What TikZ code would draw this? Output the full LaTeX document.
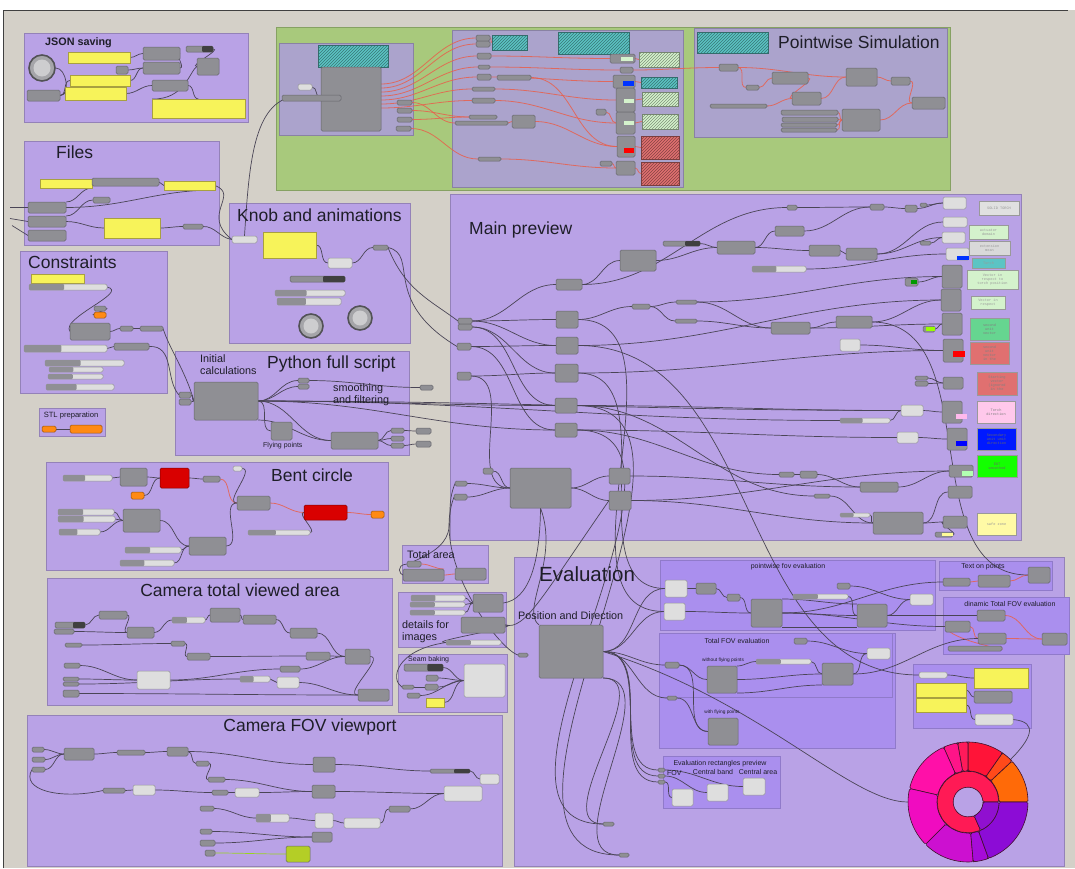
\documentclass[tikz,border=0pt]{standalone}
\usepackage{fontspec}
\setmainfont{Liberation Sans}
\setmonofont{Liberation Mono}
\usetikzlibrary{patterns}
\definecolor{canvas}{HTML}{D4D0C8}
\definecolor{cgrp}{HTML}{B9A2E6}
\definecolor{csub}{HTML}{AA8FEE}
\definecolor{cgreen}{HTML}{A8C97C}
\definecolor{cpg}{HTML}{ABA3CC}
\definecolor{cgrey}{HTML}{8F8F94}
\definecolor{cbord}{HTML}{66666C}
\definecolor{clight}{HTML}{DEDEDE}
\definecolor{cyel}{HTML}{F7F35A}
\definecolor{ybord}{HTML}{A8A040}
\definecolor{cwire}{HTML}{4A4556}
\definecolor{cred}{HTML}{E8604C}
\definecolor{corange}{HTML}{FF8A14}
\definecolor{ctitle}{HTML}{1E1E28}
\definecolor{ccyan}{HTML}{5CC4C4}
\definecolor{clgreen}{HTML}{D4F2CC}
\definecolor{chred}{HTML}{E07070}
\definecolor{dkr}{HTML}{40102A}
\definecolor{d1}{HTML}{FF6A08}
\definecolor{d2}{HTML}{FF4A1A}
\definecolor{d3}{HTML}{FF1438}
\definecolor{d4}{HTML}{FF1A5A}
\definecolor{d5}{HTML}{FF1488}
\definecolor{d6}{HTML}{FF10A8}
\definecolor{d7}{HTML}{F00CC0}
\definecolor{d8}{HTML}{CC10D0}
\definecolor{d9}{HTML}{A60CD8}
\definecolor{d10}{HTML}{8C0CD6}
\definecolor{d11}{HTML}{FF1A55}
\definecolor{d12}{HTML}{9010D0}
\pgfdeclarelayer{bg}
\pgfdeclarelayer{wires}
\pgfsetlayers{bg,wires,main}
\tikzset{
 grp/.style={fill=cgrp,draw=cgrp!80!black,line width=0.4pt,inner sep=0,outer sep=0},
 sgrp/.style={fill=csub,draw=csub!85!black,line width=0.4pt,inner sep=0,outer sep=0},
 ggrn/.style={fill=cgreen,draw=cgreen!80!black,line width=0.4pt,inner sep=0,outer sep=0},
 gpg/.style={fill=cpg,draw=cpg!80!black,line width=0.4pt,inner sep=0,outer sep=0},
 comp/.style={draw=cbord,fill=cgrey,rounded corners=1.5pt,inner sep=0,outer sep=0,line width=0.5pt},
 lcomp/.style={comp,fill=clight,draw=cbord!70},
 ypan/.style={draw=ybord,fill=cyel,inner sep=0,outer sep=0,line width=0.5pt},
 orng/.style={comp,fill=corange,draw=corange!60!black},
 redbox/.style={comp,fill=red!85!black,draw=red!50!black},
 hat/.style={draw=#1!55!black,line width=0.6pt,preaction={fill=#1},pattern=north east lines,pattern color=#1!60!black,inner sep=0,outer sep=0},
 pan/.style={draw=black!40,fill=#1,line width=0.6pt,inner sep=0,outer sep=0},
 wire/.style={draw=cwire,line width=0.7pt},
 rwire/.style={draw=cred,line width=0.8pt,opacity=0.85},
 ttl/.style={font=\fontsize{17.5}{18}\selectfont,text=ctitle,inner sep=0,anchor=west},
 lbl/.style={font=\fontsize{10.8}{12}\selectfont,text=ctitle,inner sep=0,anchor=west},
 sml/.style={font=\fontsize{7}{8}\selectfont,text=ctitle,inner sep=0},
 ptx/.style={font=\ttfamily\fontsize{3.6}{4}\selectfont,text=#1,align=center,inner sep=0},
}
\newcommand\bx[6]{\node[#6,minimum width={(#4)-(#2)},minimum height={(#5)-(#3)}] (#1) at ({((#2)+(#4))/2},{((#3)+(#5))/2}) {};}
\newcommand\sld[5]{\bx{#1}{#2}{#3}{#4}{#5}{lcomp}\fill[cgrey,rounded corners=1pt] (#2,#3) rectangle ({#2+0.45*(#4-#2)},#5);}
\newcommand\dsl[5]{\bx{#1}{#2}{#3}{#4}{#5}{comp}\fill[black!75,rounded corners=1pt] ({#2+0.6*(#4-#2)},#3) rectangle (#4,#5);}
\newcommand\chip[5]{\fill[#5] (#1,#2) rectangle (#3,#4);}
\newcommand\Wire[3][]{\draw[wire,#1] (#2.east) to[out=0,in=180] (#3.west);}
\newcommand\RWire[3][]{\draw[rwire,#1] (#2.east) to[out=0,in=180] (#3.west);}
\newcommand\seg[5]{\filldraw[fill=#5,draw=dkr,line width=0.6pt,rounded corners=1.5pt] plot[domain=-#1:-#2,samples=16] (\x:#4) -- plot[domain=-#2:-#1,samples=16] (\x:#3) -- cycle;}
\begin{document}
\begin{tikzpicture}[x=1pt,y=-1pt]
\useasboundingbox (0,0) rectangle (1075,868);
% ---------------- canvas and groups ----------------
\begin{pgfonlayer}{bg}
\fill[white] (0,0) rectangle (1075,868);
\fill[canvas] (3,10) rectangle (1075,868);
\draw[line width=1pt,black!75] (3,868) -- (3,10) -- (1068,10);
\bx{gJSON}{24}{33}{248}{122}{grp}
\bx{gFiles}{24}{141}{219}{245}{grp}
\bx{gCons}{20}{251}{167}{393}{grp}
\bx{gSTL}{39}{408}{105}{436}{grp}
\bx{gKnob}{229}{203}{410}{343}{grp}
\bx{gPy}{175}{351}{409}{455}{grp}
\bx{gGreen}{276}{27}{950}{190}{ggrn}
\bx{gG1}{279}{43}{413}{135}{gpg}
\bx{gG2}{452}{30}{683}{187}{gpg}
\bx{gG3}{694}{28}{947}{137}{gpg}
\bx{gMain}{450}{194}{1021}{540}{grp}
\bx{gBent}{46}{462}{388}{570}{grp}
\bx{gCam}{47}{578}{392}{705}{grp}
\bx{gFOV}{27}{715}{502}{866}{grp}
\bx{gTot}{402}{545}{488}{583}{grp}
\bx{gDet}{398}{592}{506}{647}{grp}
\bx{gSeam}{398}{654}{507}{712}{grp}
\bx{gEval}{514}{557}{1064}{866}{grp}
\bx{gPw}{660}{560}{935}{630}{sgrp}
\bx{gTxt}{939}{561}{1052}{590}{sgrp}
\bx{gDyn}{943}{597}{1069}{654}{sgrp}
\bx{gTF}{659}{633}{895}{748}{sgrp}
\bx{gTF2}{659}{633}{892}{697}{sgrp}
\bx{gYel}{913}{664}{1031}{728}{sgrp}
\bx{gRect}{663}{756}{780}{808}{sgrp}
\end{pgfonlayer}
% ---------------- titles ----------------
\node[ttl,font=\bfseries\fontsize{10.8}{12}\selectfont] (tJSON) at (45,43) {JSON saving};
\node[ttl] (tFiles) at (56,152) {Files};
\node[ttl] (tCons) at (28,262) {Constraints};
\node[sml,font=\fontsize{7.6}{8}\selectfont] (tSTL) at (71,416) {STL preparation};
\node[ttl] (tKnob) at (237,215) {Knob and animations};
\node[ttl] (tPy) at (267,364) {Python full script};
\node[lbl,align=left,anchor=north west] (tInit) at (200,354) {Initial\\calculations};
\node[lbl,align=left,anchor=north west] (tSmo) at (333,383) {smoothing\\and filtering};
\node[sml,anchor=west] (tFly) at (263,446) {Flying points};
\node[ttl] (tPws) at (778,42) {Pointwise Simulation};
\node[ttl] (tMain) at (469,230) {Main preview};
\node[ttl] (tBent) at (271,475) {Bent circle};
\node[ttl,anchor=center] (tCam) at (240,590) {Camera total viewed area};
\node[ttl,anchor=center] (tFOV) at (310,727) {Camera FOV viewport};
\node[lbl] (tTot) at (407,555) {Total area};
\node[lbl,align=left,anchor=north west] (tDet) at (402,620) {details for\\images};
\node[sml,anchor=west] (tSeam) at (408,660) {Seam baking};
\node[ttl,font=\fontsize{20.5}{22}\selectfont] (tEval) at (539,574) {Evaluation};
\node[lbl] (tPD) at (518,616) {Position and Direction};
\node[sml] (tPw) at (788,567) {pointwise fov evaluation};
\node[sml] (tTxt) at (983,567) {Text on points};
\node[sml] (tDyn) at (1010,604) {dinamic Total FOV evaluation};
\node[sml] (tTF) at (737,641) {Total FOV evaluation};
\node[sml,font=\fontsize{4.8}{5}\selectfont] (tWo) at (723,660) {without flying points};
\node[sml,font=\fontsize{4.8}{5}\selectfont] (tWi) at (722,712) {with flying points};
\node[sml] (tRect) at (720,764) {Evaluation rectangles preview};
\node[sml,anchor=west] (tRF) at (667,773) {FOV};
\node[sml] (tRB) at (713,772) {Central band};
\node[sml] (tRA) at (758,772) {Central area};
% ---------------- JSON saving ----------------
\node[circle,draw=cbord!80!black,fill=cgrey!80,minimum size=26,inner sep=0,line width=1.6pt] (jKnob) at (42,68) {};
\node[circle,fill=cgrey!45!white,minimum size=17,inner sep=0] (jKnobIn) at (42,68) {};
\bx{jA}{27}{90}{60}{101}{comp}
\bx{jY1}{68}{52}{130}{63}{ypan}
\bx{jY2}{70}{75}{130}{86}{ypan}
\bx{jY3}{65}{87}{126}{100}{ypan}
\bx{jY4}{152}{99}{245}{118}{ypan}
\bx{jB}{143}{47}{180}{60}{comp}
\bx{jC}{143}{62}{180}{74}{comp}
\bx{jD}{152}{80}{188}{91}{comp}
\bx{jE}{197}{58}{219}{75}{comp}
\bx{jS}{116}{66}{128}{74}{comp}
\dsl{jSl}{186}{46}{213}{52}
% ---------------- Files ----------------
\bx{fY1}{40}{179}{92}{188}{ypan}
\bx{fSl}{92}{178}{159}{186}{comp}
\bx{fY2}{164}{181}{215}{190}{ypan}
\bx{fA}{28}{202}{66}{213}{comp}
\bx{fB}{28}{216}{66}{227}{comp}
\bx{fC}{28}{230}{66}{241}{comp}
\bx{fS}{93}{197}{110}{203}{comp}
\bx{fY3}{104}{218}{160}{238}{ypan}
\bx{fS2}{183}{224}{203}{229}{comp}
% ---------------- Constraints ----------------
\bx{cY}{31}{274}{84}{283}{ypan}
\sld{cSl1}{29}{284}{107}{290}
\bx{cS1}{94}{306}{106}{311}{comp}
\bx{cO}{94}{312}{106}{318}{orng}
\bx{cA}{70}{323}{110}{340}{comp}
\bx{cS2}{120}{326}{133}{331}{comp}
\bx{cS3}{140}{326}{163}{331}{comp}
\sld{cSl2}{24}{345}{107}{352}
\bx{cB}{114}{343}{149}{350}{comp}
\sld{cSl3}{45}{360}{124}{366}
\sld{cSl4}{49}{367}{103}{372}
\sld{cSl5}{48}{374}{103}{379}
\sld{cSl6}{46}{384}{114}{390}
\bx{sO1}{42}{426}{56}{432}{orng}
\bx{sO2}{70}{425}{102}{433}{orng}
% ---------------- Knob ----------------
\bx{kSl}{232}{236}{257}{243}{lcomp}
\bx{kY}{263}{232}{316}{258}{ypan}
\bx{kL}{328}{258}{352}{268}{lcomp}
\bx{kS}{373}{245}{388}{250}{comp}
\dsl{kSl1}{290}{276}{345}{282}
\sld{kSl2}{275}{290}{345}{296}
\sld{kSl3}{277}{298}{341}{305}
\node[circle,draw=cbord!80!black,fill=cgrey!80,minimum size=24,inner sep=0,line width=1.6pt] (kK1) at (311,326) {};
\node[circle,fill=cgrey!45!white,minimum size=15,inner sep=0] (kK1in) at (311,326) {};
\node[circle,draw=cbord!80!black,fill=cgrey!80,minimum size=24,inner sep=0,line width=1.6pt] (kK2) at (360,318) {};
\node[circle,fill=cgrey!45!white,minimum size=15,inner sep=0] (kK2in) at (360,318) {};
% ---------------- Python ----------------
\bx{pA}{194}{382}{258}{420}{comp}
\bx{pS1}{179}{392}{191}{398}{comp}
\bx{pS2}{179}{399}{191}{405}{comp}
\bx{pB}{271}{422}{292}{440}{comp}
\bx{pC}{331}{432}{378}{449}{comp}
\bx{pS3}{391}{428}{404}{433}{comp}
\bx{pS4}{391}{436}{404}{441}{comp}
\bx{pS5}{391}{443}{404}{448}{comp}
\bx{pS6}{298}{378}{309}{383}{comp}
\bx{pS7}{298}{384}{309}{389}{comp}
\bx{oS1}{420}{385}{433}{390}{comp}
\bx{oS2}{416}{428}{431}{434}{comp}
\bx{oS3}{416}{441}{431}{447}{comp}
% ---------------- Green ----------------
\bx{gCy}{318}{45}{388}{67}{hat=ccyan}
\bx{gBig}{321}{67}{381}{131}{comp}
\bx{gS0}{298}{84}{312}{90}{lcomp}
\bx{gSl}{282}{95}{341}{101}{comp}
\bx{gO1}{397}{100}{412}{105}{comp}
\bx{gO2}{397}{108}{412}{113}{comp}
\bx{gO3}{397}{117}{412}{122}{comp}
\bx{gO4}{396}{126}{411}{131}{comp}
\bx{hP1}{476}{35}{490}{41}{comp}
\bx{hP2}{476}{41}{490}{47}{comp}
\bx{hCy1}{492}{35}{527}{50}{hat=ccyan}
\bx{hCy2}{558}{32}{629}{54}{hat=ccyan}
\bx{hP3}{477}{53}{491}{59}{comp}
\bx{hP4}{478}{65}{490}{69}{comp}
\bx{hP5}{477}{74}{491}{80}{comp}
\bx{hSl}{497}{75}{531}{80}{comp}
\bx{hP6}{472}{87}{495}{91}{comp}
\bx{hP7}{472}{98}{495}{103}{comp}
\bx{hP8}{469}{115}{497}{119}{comp}
\bx{hSl2}{455}{121}{508}{125}{comp}
\bx{hQ}{512}{115}{535}{128}{comp}
\bx{hP9}{478}{157}{501}{161}{comp}
\bx{hR1}{610}{54}{635}{63}{comp}\chip{621}{57}{633}{61}{clgreen}
\bx{hR2}{620}{67}{633}{73}{comp}
\bx{hR3}{613}{75}{635}{88}{comp}\chip{623}{81}{634}{86}{blue!80!cyan}
\bx{hR4}{616}{88}{635}{112}{comp}\chip{624}{99}{634}{103}{clgreen}
\bx{hR5}{616}{112}{635}{134}{comp}\chip{624}{121}{634}{125}{clgreen}
\bx{hR6}{617}{136}{635}{157}{comp}\chip{624}{148}{634}{153}{red}
\bx{hR7}{616}{161}{635}{175}{comp}
\bx{hP10}{596}{109}{606}{115}{comp}
\bx{hP11}{600}{161}{612}{166}{comp}
\bx{hH1}{639}{52}{679}{67}{hat=clgreen}
\bx{hH2}{641}{77}{677}{88}{hat=ccyan}
\bx{hH3}{642}{92}{678}{106}{hat=clgreen}
\bx{hH4}{642}{114}{678}{129}{hat=clgreen}
\bx{hH5}{641}{136}{679}{159}{hat=chred}
\bx{hH6}{641}{162}{679}{185}{hat=chred}
\bx{iCy}{697}{32}{768}{53}{hat=ccyan}
\bx{iA}{719}{64}{738}{71}{comp}
\bx{iB}{746}{85}{759}{90}{comp}
\bx{iC}{772}{72}{808}{84}{comp}
\bx{iD}{792}{92}{821}{105}{comp}
\bx{iE}{846}{68}{877}{86}{comp}
\bx{iF}{891}{77}{910}{85}{comp}
\bx{iG}{912}{97}{945}{109}{comp}
\bx{iH}{842}{109}{880}{131}{comp}
\bx{iS1}{710}{104}{767}{108}{comp}
\bx{iS2}{781}{110}{838}{115}{comp}
\bx{iS3}{782}{117}{838}{122}{comp}
\bx{iS4}{781}{123}{837}{127}{comp}
\bx{iS5}{781}{128}{837}{132}{comp}
% ---------------- Main preview ----------------
\bx{mA}{458}{318}{472}{324}{comp}
\bx{mB}{458}{324}{472}{330}{comp}
\bx{mC}{457}{343}{471}{350}{comp}
\bx{mD}{457}{372}{471}{380}{comp}
\bx{mE}{556}{311}{578}{328}{comp}
\bx{mF}{556}{337}{578}{354}{comp}
\bx{mG}{555}{364}{578}{382}{comp}
\bx{mH}{555}{398}{577}{413}{comp}
\bx{mI}{555}{423}{577}{437}{comp}
\bx{mJ}{556}{279}{582}{290}{comp}
\bx{mK}{620}{250}{656}{271}{comp}
\dsl{mL}{663}{241}{700}{246}
\bx{mM}{717}{241}{755}{254}{comp}
\bx{mN}{775}{226}{804}{236}{comp}
\bx{mO}{787}{205}{797}{210}{comp}
\bx{mP}{870}{204}{884}{210}{comp}
\bx{mQ}{905}{205}{917}{212}{comp}
\bx{mR}{809}{245}{840}{256}{comp}
\bx{mS}{846}{248}{877}{260}{comp}
\sld{mT}{752}{266}{806}{272}
\bx{mU}{632}{304}{650}{309}{comp}
\bx{mV}{676}{300}{697}{304}{comp}
\bx{mW}{675}{319}{697}{323}{comp}
\bx{mX}{771}{322}{810}{334}{comp}
\bx{mY}{836}{316}{872}{328}{comp}
\bx{mZ}{840}{339}{860}{351}{lcomp}
\bx{mBig}{510}{468}{571}{508}{comp}
\bx{m1}{609}{468}{630}{484}{comp}
\bx{m2}{609}{491}{631}{510}{comp}
\bx{m3}{455}{481}{467}{486}{comp}
\bx{m4}{454}{494}{467}{500}{comp}
\bx{m5}{483}{468}{493}{474}{comp}
\bx{m6}{860}{482}{898}{492}{comp}
\bx{m7}{873}{512}{923}{534}{comp}
\sld{m8}{840}{513}{870}{517}
\bx{m9}{897}{432}{918}{443}{lcomp}
\bx{m10}{901}{405}{923}{416}{lcomp}
\sld{m11}{840}{418}{890}{423}
\bx{m12}{779}{472}{794}{477}{comp}
\bx{m13}{800}{471}{817}{478}{comp}
\bx{m14}{814}{494}{830}{498}{comp}
\bx{m15}{905}{278}{918}{286}{comp}\chip{911}{280}{917}{284}{green!60!black}
\bx{m16}{915}{376}{928}{380}{comp}
\bx{m17}{915}{381}{928}{386}{comp}
\bx{mLime}{923}{326}{935}{332}{comp}\chip{926}{327}{935}{331}{lime!80!green}
\bx{mPY}{935}{532}{953}{537}{comp}\chip{942}{533}{953}{536}{yellow!40}
\bx{mSm1}{920}{203}{927}{207}{comp}
\bx{mSm2}{920}{241}{931}{245}{comp}
\bx{c1}{943}{197}{966}{209}{lcomp}
\bx{c2}{943}{217}{967}{227}{lcomp}
\bx{c3}{942}{232}{965}{243}{lcomp}
\bx{c4}{946}{248}{969}{260}{lcomp}\chip{957}{256}{969}{260}{blue!80!cyan}
\bx{c5}{942}{265}{962}{288}{comp}
\bx{c6}{941}{289}{961}{311}{comp}
\bx{c7}{942}{313}{962}{335}{comp}
\bx{c8}{943}{339}{963}{362}{comp}\chip{953}{351}{965}{357}{red}
\bx{c9}{943}{377}{963}{389}{comp}
\bx{c10}{942}{401}{962}{423}{comp}\chip{956}{414}{967}{419}{pink!60!magenta!50}
\bx{c11}{947}{428}{967}{450}{comp}\chip{956}{441}{967}{446}{blue}
\bx{c12}{949}{465}{973}{477}{comp}\chip{962}{471}{973}{476}{green!30}
\bx{c13}{948}{486}{972}{498}{comp}
\bx{c14}{943}{516}{967}{528}{comp}
% coloured panels
\bx{q1}{979}{201}{1019}{215}{pan=black!12}\node[ptx=black!40] at (q1) {SOLID TORCH};
\bx{q2}{969}{225}{1008}{239}{pan=clgreen}\node[ptx=black!40] at (q2) {actuator\\domain};
\bx{q3}{969}{241}{1010}{255}{pan=black!15}\node[ptx=black!40] at (q3) {extension\\mean};
\bx{q4}{972}{258}{1005}{268}{pan=ccyan}\node[ptx=black!40] at (q4) {Torch};
\bx{q5}{967}{270}{1018}{289}{pan=clgreen}\node[ptx=black!40] at (q5) {Vector in\\respect to\\torch position};
\bx{q6}{971}{296}{1005}{309}{pan=clgreen}\node[ptx=black!40] at (q6) {Vector in\\respect};
\bx{q7}{970}{318}{1009}{340}{pan=green!45!teal!60}\node[ptx=black!50] at (q7) {second\\unit\\vector};
\bx{q8}{970}{342}{1009}{364}{pan=chred}\node[ptx=black!50] at (q8) {second\\unit\\vector\\in the};
\bx{q9}{977}{372}{1017}{395}{pan=chred}\node[ptx=black!50] at (q9) {Starting\\vector\\(ignored\\in the};
\bx{q10}{977}{401}{1015}{423}{pan=pink!70!magenta!45}\node[ptx=black!50] at (q10) {Torch\\direction};
\bx{q11}{977}{428}{1016}{450}{pan=blue!90!cyan}\node[ptx=black!60] at (q11) {Secondary\\unit unit\\direction};
\bx{q12}{977}{455}{1017}{477}{pan=green!90!lime}\node[ptx=black!60] at (q12) {EOT\\smoothed};
\bx{q13}{977}{513}{1016}{535}{pan=yellow!35}\node[ptx=black!40] at (q13) {safe zone};
% ---------------- Bent circle ----------------
\sld{bSl1}{63}{475}{112}{481}
\bx{bA}{120}{468}{147}{486}{comp}
\bx{bR1}{160}{468}{189}{488}{redbox}
\bx{bS1}{203}{476}{220}{482}{comp}
\bx{bS2}{233}{466}{242}{471}{lcomp}
\bx{bO1}{131}{492}{144}{499}{orng}
\bx{bB}{237}{496}{270}{510}{comp}
\bx{bR2}{304}{505}{347}{520}{redbox}
\bx{bO2}{371}{511}{384}{518}{orng}
\sld{bSl2}{58}{509}{114}{515}
\sld{bSl3}{58}{516}{115}{522}
\bx{bC}{123}{509}{160}{532}{comp}
\sld{bSl4}{59}{529}{100}{535}
\sld{bSl5}{248}{530}{310}{535}
\bx{bD}{189}{537}{226}{555}{comp}
\sld{bSl6}{125}{547}{181}{553}
\sld{bSl7}{120}{560}{174}{566}
% ---------------- Camera total viewed area ----------------
\dsl{tP1}{55}{622}{85}{628}
\bx{tP2}{54}{629}{74}{634}{comp}
\bx{tA}{99}{611}{127}{619}{comp}
\bx{tB}{127}{627}{154}{638}{comp}
\sld{tC}{172}{617}{205}{623}
\bx{tD}{210}{608}{240}{622}{comp}
\bx{tE}{243}{615}{276}{624}{comp}
\bx{tF}{290}{628}{317}{638}{comp}
\bx{tG}{345}{649}{370}{664}{comp}
\bx{tH}{358}{689}{389}{701}{comp}
\bx{tI}{137}{671}{170}{689}{lcomp}
\sld{tJ}{240}{676}{270}{682}
\bx{tK}{277}{677}{299}{688}{lcomp}
\bx{tL}{280}{666}{300}{672}{comp}
\bx{tM}{187}{653}{210}{660}{comp}
\bx{tN}{171}{641}{185}{646}{comp}
\bx{tQ1}{65}{643}{82}{647}{comp}
\bx{tQ2}{64}{663}{80}{668}{comp}
\bx{tQ3}{63}{677}{79}{681}{comp}
\bx{tQ4}{63}{682}{79}{686}{comp}
\bx{tQ5}{63}{690}{79}{697}{comp}
\bx{tR}{306}{652}{330}{660}{comp}
% ---------------- Camera FOV viewport ----------------
\bx{vP1}{32}{747}{44}{752}{comp}
\bx{vP2}{32}{757}{45}{762}{comp}
\bx{vP3}{32}{767}{45}{772}{comp}
\bx{vA}{64}{748}{94}{760}{comp}
\bx{vB}{117}{750}{145}{755}{comp}
\bx{vC}{167}{747}{188}{756}{comp}
\bx{vD}{196}{761}{209}{766}{comp}
\bx{vE}{208}{777}{225}{782}{comp}
\bx{vF}{212}{790}{228}{795}{comp}
\bx{vG}{235}{788}{259}{797}{lcomp}
\bx{vH}{313}{757}{335}{772}{comp}
\bx{vI}{312}{785}{335}{798}{comp}
\dsl{vJ}{430}{769}{470}{773}
\bx{vK}{480}{774}{499}{784}{lcomp}
\bx{vL}{444}{786}{482}{801}{lcomp}
\bx{vM}{315}{813}{333}{828}{lcomp}
\bx{vN}{344}{818}{380}{828}{lcomp}
\bx{vO}{389}{806}{410}{812}{comp}
\bx{vP}{200}{829}{212}{834}{comp}
\bx{vQ}{200}{840}{215}{846}{comp}
\bx{vR}{205}{850}{215}{856}{comp}
\bx{vS}{286}{846}{310}{862}{comp,fill=yellow!75!green!90!black}
\bx{vT}{312}{832}{332}{842}{comp}
\sld{vU}{256}{814}{289}{822}
\bx{vV}{133}{785}{155}{795}{lcomp}
\bx{vW}{103}{788}{125}{793}{comp}
\bx{vX}{200}{806}{214}{811}{comp}
% ---------------- small groups ----------------
\bx{aS}{407}{561}{421}{567}{comp}
\bx{aA}{403}{569}{444}{581}{comp}
\bx{aB}{455}{568}{486}{580}{comp}
\sld{dS1}{411}{595}{465}{601}
\sld{dS2}{410}{602}{465}{607}
\sld{dS3}{410}{610}{465}{615}
\bx{dA}{473}{594}{503}{612}{comp}
\bx{dB}{461}{617}{505}{633}{comp}
\sld{dS4}{446}{640}{501}{645}
\dsl{sS}{404}{664}{443}{671}
\bx{sA}{426}{675}{438}{681}{comp}
\bx{sB}{425}{684}{438}{690}{comp}
\bx{sC}{402}{685}{414}{689}{comp}
\bx{sD}{407}{693}{420}{698}{comp}
\bx{sY}{426}{698}{444}{707}{ypan}
\bx{sL}{464}{664}{505}{697}{lcomp}
% ---------------- Evaluation ----------------
\bx{ePD}{539}{625}{603}{678}{comp}
\bx{eS}{518}{653}{528}{657}{comp}
\bx{eX1}{603}{822}{614}{826}{comp}
\bx{eX2}{619}{853}{629}{857}{comp}
\bx{wL1}{665}{580}{687}{597}{lcomp}
\bx{wL2}{664}{603}{685}{620}{lcomp}
\bx{wA}{696}{583}{716}{594}{comp}
\bx{wB}{727}{594}{740}{601}{comp}
\bx{wC}{751}{599}{782}{627}{comp}
\sld{wSl}{793}{594}{848}{599}
\bx{wD}{837}{583}{850}{589}{comp}
\bx{wE}{857}{604}{887}{627}{comp}
\bx{wF}{910}{594}{933}{605}{lcomp}
\bx{xA}{943}{578}{970}{586}{comp}
\bx{xB}{978}{575}{1010}{587}{comp}
\bx{xC}{1028}{567}{1050}{583}{comp}
\bx{zA}{977}{610}{1005}{621}{comp}
\bx{zB}{945}{621}{970}{632}{comp}
\bx{zC}{978}{633}{1006}{644}{comp}
\bx{zD}{1042}{633}{1067}{645}{comp}
\bx{zS}{948}{646}{1002}{651}{comp}
\bx{uS1}{665}{662}{679}{668}{comp}
\bx{uS2}{667}{696}{677}{700}{comp}
\bx{uA}{707}{666}{737}{693}{comp}
\sld{uSl}{756}{659}{811}{664}
\bx{uB}{794}{638}{807}{644}{comp}
\bx{uC}{822}{663}{853}{685}{comp}
\bx{uL}{867}{648}{890}{659}{lcomp}
\bx{uD}{708}{718}{738}{745}{comp}
\bx{yL}{919}{672}{947}{678}{lcomp}
\bx{yY1}{916}{683}{966}{697}{ypan}
\bx{yY2}{916}{698}{966}{712}{ypan}
\bx{yY3}{974}{668}{1028}{688}{ypan}
\bx{yG}{974}{691}{1012}{703}{comp}
\bx{yL2}{975}{714}{1013}{725}{lcomp}
\bx{rA}{672}{789}{693}{806}{lcomp}
\bx{rB}{707}{784}{728}{801}{lcomp}
\bx{rC}{743}{778}{765}{795}{lcomp}
\bx{rP1}{658}{768}{665}{772}{comp}
\bx{rP2}{658}{774}{665}{778}{comp}
\bx{rP3}{658}{780}{665}{784}{comp}
% ---------------- donut ----------------
\begin{scope}[shift={(968,802)}]
\seg{0}{43}{31}{60}{d1}
\seg{43}{55}{31}{60}{d2}
\seg{55}{90}{31}{60}{d3}
\seg{90}{100}{31}{60}{d4}
\seg{100}{114}{31}{60}{d5}
\seg{114}{167}{31}{60}{d6}
\seg{167}{225}{31}{60}{d7}
\seg{225}{275}{31}{60}{d8}
\seg{275}{290}{31}{60}{d9}
\seg{290}{360}{31}{60}{d10}
\seg{0}{294}{15}{31}{d11}
\seg{294}{360}{15}{31}{d12}
\node[circle,minimum size=30,inner sep=0] (donut) at (0,0) {};
\node[circle,minimum size=120,inner sep=0] (donutO) at (0,0) {};
\end{scope}
% ---------------- wires ----------------
\begin{pgfonlayer}{wires}
% JSON
\draw[wire] (jKnob.east) to[out=0,in=0] (jA.east);
\Wire{jA}{jY2}\Wire{jA}{jY3}\Wire{jY1}{jB}\Wire{jY2}{jC}\Wire{jS}{jC}\Wire{jY3}{jD}\Wire{jSl}{jE}
\draw[wire] (jE.west) .. controls (190,70) and (185,100) .. (jY4.north west);
\draw[wire] (jD.east) to[out=0,in=180] (jY4.north);
\draw[wire] (jC.east) to[out=0,in=180] (jB.east);
% Files
\draw[wire] (fA.north east) to[out=0,in=180] (fY1.south east);
\Wire{fY1}{fSl}\Wire{fSl}{fY2}\Wire{fB}{fY3}\Wire{fY3}{fS2}
\draw[wire] (fA.east) to[out=0,in=180] (fY2.south east);
\draw[wire] (fB.north east) to[out=0,in=180] (fS.west);
\draw[wire] (fY2.east) .. controls (240,195) and (200,215) .. (kSl.west);
\draw[wire] (fS2.east) .. controls (215,226) and (220,238) .. (kSl.west);
\draw[wire] (fA.west) -- ++(-18,0);
\draw[wire] (fB.west) -- ++(-18,-3);
\draw[wire] (fC.west) -- ++(-16,-10);
% Constraints
\draw[wire] (cSl1.east) .. controls (130,292) and (60,318) .. (cA.west);
\Wire{cA}{cS2}\Wire{cS2}{cS3}\Wire{cSl2}{cB}\Wire{cS1}{cO}
\draw[wire] (cB.east) .. controls (175,345) and (165,380) .. (pS1.west);
\Wire{sO1}{sO2}
% Knob
\Wire{kY}{kL}\Wire{kL}{kS}
\draw[wire] (kSl.north) .. controls (250,150) and (255,80) .. (gBig.west);
\draw[wire] (gS0.east) to[out=0,in=180] (gBig.west);
\draw[wire] (kS.east) .. controls (420,255) and (380,300) .. (mC.west);
\draw[wire] (kS.east) .. controls (405,290) and (430,300) .. (mA.west);
% Python
\Wire{pS1}{pA}\Wire{pS2}{pA}\Wire{pA}{pS6}\Wire{pA}{pS7}\Wire{pA}{pB}
\Wire{pA}{pC}\draw[wire] (pA.south east) to[out=0,in=180] (pC.west);
\Wire{pC}{pS3}\Wire{pC}{pS4}\Wire{pC}{pS5}
\Wire{pS6}{oS1}\Wire{pA}{mH}\Wire{pA}{mI}\Wire{pA}{m11}\Wire{pA}{m10}
\Wire{pS3}{oS2}\Wire{pS5}{oS3}
\draw[wire] (pA.west) .. controls (185,370) and (170,350) .. (cS3.east);
% Green (red wires)
\foreach \n/\s in {hP1/15,hP2/11,hP3/7,hP4/3,hP5/-1,hP6/-5,hP7/-9}{\draw[rwire] ([yshift=\s pt]gBig.east) to[out=0,in=180] (\n.west);}
\RWire{gO1}{hSl2}\RWire{gO2}{hP8}\RWire{gO3}{hP8}\RWire{gO4}{hP9}
\RWire{hP3}{hR1}\RWire{hP4}{hR2}\RWire{hP5}{hR3}\RWire{hSl}{hR6}
\RWire{hP6}{hR4}\RWire{hP7}{hR5}\RWire{hQ}{hR6}\RWire{hP9}{hR7}\RWire{hP10}{hR5}\RWire{hP11}{hR7}
\RWire{hSl2}{hQ}\RWire{hP1}{hCy1}\RWire{hR1}{hH1}\RWire{hR3}{hH2}\RWire{hR4}{hH3}\RWire{hR5}{hH4}\RWire{hR6}{hH5}\RWire{hR7}{hH6}
\RWire{hR2}{iA}\RWire{iA}{iE}\RWire{iA}{iB}\RWire{iB}{iC}\RWire{iC}{iD}\RWire{iS1}{iD}\RWire{iD}{iE}\RWire{iE}{iF}\RWire{iF}{iG}\RWire{iH}{iG}
\RWire{iS2}{iH}\RWire{iS3}{iH}\RWire{iS4}{iH}\RWire{iS5}{iH}
% Main preview
\Wire{mA}{mE}\Wire{mA}{mJ}\Wire{mA}{mF}\Wire{mB}{mG}\Wire{mB}{mH}\Wire{mC}{mF}\Wire{mC}{mI}\Wire{mD}{mG}\Wire{mD}{mBig}
\Wire{mJ}{mK}\Wire{mK}{mM}\Wire{mL}{mM}\Wire{mM}{mN}\Wire{mN}{mP}\Wire{mO}{mP}\Wire{mP}{mQ}\Wire{mQ}{c1}\Wire{mSm1}{c1}
\Wire{mM}{mR}\Wire{mR}{mS}\Wire{mS}{c2}\Wire{mS}{c3}\Wire{mT}{c4}\Wire{mSm2}{c3}
\Wire{mE}{mU}\Wire{mU}{mV}\Wire{mU}{mW}\Wire{mV}{mX}\Wire{mW}{mX}\Wire{mV}{c5}\Wire{mX}{mY}\Wire{mY}{c6}
\Wire{mX}{c7}\Wire{mZ}{c8}\Wire{mLime}{c7}\Wire{m15}{c5}\Wire{m16}{c9}\Wire{m17}{c9}
\Wire{m11}{m10}\Wire{m10}{c10}\Wire{m9}{c11}\Wire{mH}{m10}\Wire{mI}{m9}\Wire{mF}{c6}\Wire{mG}{c8}
\Wire{m3}{mBig}\Wire{m4}{mBig}\Wire{m5}{mBig}\Wire{mBig}{m1}\Wire{mBig}{m2}\Wire{m1}{m6}\Wire{m2}{m7}
\Wire{m12}{m13}\Wire{m13}{m6}\Wire{m14}{m7}\Wire{m8}{m7}\Wire{m6}{c12}\Wire{m7}{c13}\Wire{m7}{c14}\Wire{mPY}{c14}
\Wire{mI}{m12}\Wire{mH}{m14}\Wire{m2}{c12}
\Wire{mJ}{mO}
% long wires towards evaluation
\Wire{mF}{yL}\Wire{mG}{wL1}\Wire{mE}{wL2}\Wire{mI}{eX1}\Wire{mH}{eX2}
\draw[wire] (m4.west) .. controls (430,560) and (500,650) .. (eS.west);
\draw[wire] (m3.west) .. controls (440,520) and (470,540) .. (aS.west);
\draw[wire] (mBig.south) .. controls (560,560) and (520,610) .. (ePD.north west);
\draw[wire] (aS.west) .. controls (395,565) and (400,575) .. (aA.west);
% evaluation
\Wire{ePD}{wL1}\Wire{ePD}{wL2}\Wire{ePD}{uS1}\Wire{ePD}{uS2}\Wire{ePD}{rP1}\Wire{ePD}{rP2}\Wire{ePD}{rP3}
\draw[wire] (ePD.south east) to[out=0,in=180] (eX1.west);
\draw[wire] (ePD.south east) to[out=0,in=180] (eX2.west);
\draw[wire] (ePD.east) .. controls (760,700) and (850,802) .. (donutO.west);
\Wire{wL1}{wA}\Wire{wA}{wB}\Wire{wB}{wC}\Wire{wL2}{wC}\Wire{wC}{wE}\draw[wire] (wC.south east) to[out=0,in=180] (wE.south west);
\draw[wire] (wC.north east) to[out=0,in=180] (wE.north west);
\Wire{wSl}{wE}\Wire{wD}{wF}\Wire{wE}{wF}\Wire{wC}{xA}\Wire{wC}{zB}\Wire{wE}{zA}
\RWire{xA}{xB}\RWire{xB}{xC}\Wire{mY}{xC}
\RWire{zB}{zC}\RWire{zA}{zD}\RWire{zC}{zD}\draw[rwire] (zS.east) .. controls (1010,651) and (950,640) .. (zB.west);
\Wire{uS1}{uA}\Wire{uA}{uC}\draw[wire] (uA.south east) to[out=0,in=180] (uC.south west);
\draw[wire] (uA.north east) to[out=0,in=180] (uSl.west);
\Wire{uSl}{uC}\Wire{uB}{uL}\Wire{uC}{uL}\Wire{uC}{zC}\Wire{uS2}{uD}\Wire{uS1}{uD}
\Wire{yL}{yY3}\Wire{yY1}{yG}\Wire{yY2}{yL2}
\draw[wire] (yL2.east) .. controls (1040,722) and (1030,740) .. (donutO.north east);
\Wire{rP1}{rC}\Wire{rP2}{rB}\Wire{rP3}{rA}
% small groups
\RWire{aA}{aB}\draw[rwire] (aS.east) to[out=0,in=180] (aA.north east);
\Wire{dS1}{dA}\Wire{dS2}{dA}\Wire{dS3}{dA}\Wire{dB}{dS4}
\draw[wire] (dA.east) .. controls (530,600) and (540,560) .. (mBig.south);
\draw[wire] (dB.east) .. controls (525,630) and (540,600) .. (m2.west);
\Wire{sS}{sL}\Wire{sA}{sL}\Wire{sB}{sL}\Wire{sD}{sL}\Wire{sY}{sL}\Wire{sC}{sB}
\draw[wire] (sC.west) .. controls (390,680) and (395,650) .. (dS4.west);
% Bent circle
\Wire{bSl1}{bA}\Wire{bA}{bR1}\Wire{bR1}{bS1}\RWire{bS1}{bB}\RWire{bB}{bR2}\RWire{bR2}{bO2}\Wire{bS2}{bB}
\Wire{bSl2}{bC}\Wire{bSl3}{bC}\Wire{bSl4}{bC}\Wire{bC}{bD}\Wire{bSl6}{bD}\Wire{bSl7}{bD}\Wire{bD}{bB}\Wire{bSl5}{bR2}\Wire{bO1}{bR1}
% Camera total viewed area
\Wire{tP1}{tA}\Wire{tP2}{tB}\Wire{tA}{tB}\Wire{tB}{tC}\Wire{tC}{tD}\Wire{tD}{tE}\Wire{tE}{tF}\Wire{tF}{tG}
\Wire{tQ1}{tN}\Wire{tN}{tM}\Wire{tM}{tR}\Wire{tR}{tG}\Wire{tQ2}{tI}\Wire{tQ3}{tI}\Wire{tQ4}{tJ}\Wire{tJ}{tK}\Wire{tL}{tG}\Wire{tK}{tH}\Wire{tQ5}{tH}\Wire{tG}{tH}\Wire{tI}{tL}
% Camera FOV viewport
\Wire{vP1}{vA}\Wire{vP2}{vA}\Wire{vP3}{vA}\Wire{vA}{vB}\Wire{vB}{vC}\Wire{vC}{vH}\Wire{vC}{vD}\Wire{vD}{vE}\Wire{vE}{vI}\Wire{vF}{vG}\Wire{vG}{vI}
\Wire{vW}{vV}\Wire{vV}{vF}\Wire{vH}{vJ}\Wire{vJ}{vK}\Wire{vI}{vL}\Wire{vX}{vU}\Wire{vU}{vM}\Wire{vM}{vN}\Wire{vN}{vO}\Wire{vO}{vL}
\Wire{vP}{vT}\Wire{vQ}{vT}\draw[draw=yellow!60!green,line width=0.7pt] (vR.east) to[out=0,in=180] (vS.west);
\draw[wire] (vP3.west) .. controls (20,790) and (60,800) .. (vW.west);
\end{pgfonlayer}
\end{tikzpicture}
\end{document}
